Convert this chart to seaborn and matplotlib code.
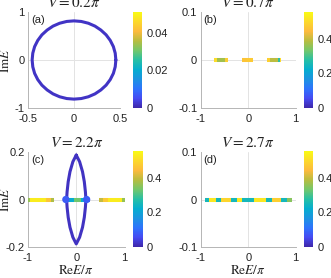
import numpy as np
import pandas as pd
import matplotlib
matplotlib.use("Agg")
import matplotlib.pyplot as plt
from matplotlib.colors import LinearSegmentedColormap, Normalize
from matplotlib.cm import ScalarMappable
import seaborn as sns

sns.set_style("white")
plt.rcParams['font.family'] = ['Liberation Sans', 'DejaVu Sans']
plt.rcParams['mathtext.fontset'] = 'stix'

# parula-like colormap
parula = LinearSegmentedColormap.from_list("parula", [
    (0.00, (0.242, 0.150, 0.660)),
    (0.10, (0.275, 0.290, 0.950)),
    (0.20, (0.180, 0.450, 0.990)),
    (0.30, (0.110, 0.580, 0.880)),
    (0.40, (0.020, 0.680, 0.810)),
    (0.50, (0.150, 0.750, 0.650)),
    (0.60, (0.450, 0.780, 0.420)),
    (0.70, (0.720, 0.740, 0.250)),
    (0.80, (0.990, 0.730, 0.240)),
    (0.90, (0.990, 0.850, 0.170)),
    (1.00, (0.976, 0.983, 0.080)),
])

loop_qx = [0.455, 0.448, 0.428, 0.394, 0.349, 0.292, 0.228, 0.156, 0.079, 0.0]
loop_qy = [0.0, 0.142, 0.279, 0.408, 0.524, 0.624, 0.706, 0.766, 0.803, 0.815]
loop_val = 0.002

# (b) V = 0.7pi : real segments [x0, x1, value]
b_x0 = [-0.72, -0.66, -0.48, -0.137, -0.02, 0.39, 0.45, 0.62, 0.66]
b_x1 = [-0.66, -0.48, -0.42, -0.02, 0.107, 0.45, 0.62, 0.66, 0.69]
b_v = [0.50, 0.37, 0.48, 0.46, 0.47, 0.48, 0.39, 0.28, 0.50]

# (c) V = 2.2pi : lens loop + real segments
lens_x = [0.0, 0.07, 0.13, 0.167, 0.19, 0.20, 0.19, 0.167, 0.13, 0.07, 0.0,
          -0.07, -0.13, -0.167, -0.19, -0.20, -0.19, -0.167, -0.13, -0.07, 0.0]
lens_y = [0.187, 0.159, 0.117, 0.075, 0.032, 0.0, -0.032, -0.075, -0.117, -0.159, -0.187,
          -0.159, -0.117, -0.075, -0.032, 0.0, 0.032, 0.075, 0.117, 0.159, 0.187]
lens_val = 0.02
blob_x = [-0.215, 0.215]
blob_v = [0.08, 0.08]
c_x0 = [-1.0, -0.95, -0.62, -0.52, -0.245, -0.15, -0.05, 0.10, 0.20, 0.47, 0.55, 0.65, 0.95]
c_x1 = [-0.95, -0.62, -0.52, -0.46, -0.15, -0.05, 0.10, 0.20, 0.28, 0.55, 0.65, 0.95, 1.0]
c_v = [0.36, 0.53, 0.46, 0.38, 0.13, 0.22, 0.33, 0.22, 0.13, 0.40, 0.47, 0.53, 0.36]

# (d) V = 2.7pi
d_x0 = [-0.909, -0.825, -0.684, -0.579, -0.368, -0.228, -0.123, 0.123, 0.368, 0.509, 0.684, 0.825]
d_x1 = [-0.825, -0.684, -0.579, -0.368, -0.228, -0.123, 0.123, 0.368, 0.509, 0.684, 0.825, 0.930]
d_v = [0.25, 0.52, 0.25, 0.49, 0.25, 0.52, 0.25, 0.52, 0.25, 0.48, 0.25, 0.35]

W, H = 331, 278
fig = plt.figure(figsize=(W / 100, H / 100), dpi=100)
TXT = '#222222'


def px_axes(x0, x1, y0, y1):
    return fig.add_axes([x0 / W, 1 - y1 / H, (x1 - x0) / W, (y1 - y0) / H])


def style(ax, xlim, ylim, xt, yt, xtl, ytl, label, title):
    ax.set_xlim(xlim)
    ax.set_ylim(ylim)
    ax.axhline(0, color='#e3e3e3', lw=0.7, zorder=0)
    ax.axvline(0, color='#e3e3e3', lw=0.7, zorder=0)
    ax.set_xticks(xt)
    ax.set_xticklabels(xtl)
    ax.set_yticks(yt)
    ax.set_yticklabels(ytl)
    for s in ['top', 'right']:
        ax.spines[s].set_visible(False)
    for s in ['left', 'bottom']:
        ax.spines[s].set_color('#b5b5b5')
        ax.spines[s].set_linewidth(0.7)
    ax.tick_params(direction='in', length=2, width=0.6, color='#b5b5b5',
                   labelsize=8, labelcolor=TXT)
    ax.tick_params(axis='x', pad=4)
    ax.tick_params(axis='y', pad=2.5)
    ax.text(0.03, 0.97, label, transform=ax.transAxes, ha='left', va='top', fontsize=8,
            color=TXT)
    ax.set_title(title, fontsize=11, pad=3.5, color=TXT)
    ax.set_xlabel('')
    ax.set_ylabel('')


def cbar(x0, x1, y0, y1, vmax, ticks, tl):
    cax = px_axes(x0, x1, y0, y1)
    sm = ScalarMappable(norm=Normalize(0, vmax), cmap=parula)
    cb = fig.colorbar(sm, cax=cax)
    cb.outline.set_visible(False)
    cb.set_ticks(ticks)
    cb.set_ticklabels(tl)
    cax.tick_params(length=0, labelsize=8, labelcolor=TXT, pad=3)
    return sm.norm


def segs(ax, x0, x1, v, norm):
    df = pd.DataFrame({'x0': x0, 'x1': x1, 'v': v})
    for _, r in df.iterrows():
        ax.hlines(0, r.x0, r.x1, colors=[parula(norm(r.v))], lw=2.9, zorder=3)


def ylab(ax, left_px, width_px):
    ax.set_ylabel(r'$\mathrm{Im}E$', fontsize=9.5, color=TXT)
    ax.yaxis.set_label_coords((12 - left_px) / width_px, 0.5)


# (a)
ax = px_axes(28, 120, 12, 108)
na = cbar(133, 142, 12, 108, 0.051, [0, 0.02, 0.04], ['0', '0.02', '0.04'])
qx = np.array(loop_qx)
qy = np.array(loop_qy)
lx = np.concatenate([qx, -qx[::-1], -qx, qx[::-1]])
ly = np.concatenate([qy, qy[::-1], -qy, -qy[::-1]])
sns.lineplot(x=lx, y=ly, sort=False, estimator=None, color=parula(na(loop_val)), lw=2.2, ax=ax)
style(ax, (-0.5, 0.5), (-1, 1), [-0.5, 0, 0.5], [-1, 0, 1], ['-0.5', '0', '0.5'],
      ['-1', '0', '1'], '(a)', r'$V=0.2\pi$')
ylab(ax, 28, 92)

# (b)
ax = px_axes(200.7, 295.7, 12, 108)
nb = cbar(304, 313, 12, 108, 0.554, [0, 0.2, 0.4], ['0', '0.2', '0.4'])
segs(ax, b_x0, b_x1, b_v, nb)
style(ax, (-1, 1), (-0.1, 0.1), [-1, 0, 1], [-0.1, 0, 0.1], ['-1', '0', '1'],
      ['-0.1', '0', '0.1'], '(b)', r'$V=0.7\pi$')

# (c)
ax = px_axes(28, 124.5, 152, 247)
nc = cbar(133, 142.5, 151, 247, 0.554, [0, 0.2, 0.4], ['0', '0.2', '0.4'])
segs(ax, c_x0, c_x1, c_v, nc)
sns.lineplot(x=lens_x, y=lens_y, sort=False, estimator=None, color=parula(nc(lens_val)),
             lw=2.2, ax=ax, zorder=2)
sns.scatterplot(x=blob_x, y=[0, 0], color=[parula(nc(v)) for v in blob_v], s=28,
                edgecolor='none', ax=ax, zorder=4)
style(ax, (-1, 1), (-0.2, 0.2), [-1, 0, 1], [-0.2, 0, 0.2], ['-1', '0', '1'],
      ['-0.2', '0', '0.2'], '(c)', r'$V=2.2\pi$')
ylab(ax, 28, 96.5)
ax.set_xlabel(r'$\mathrm{Re}E/\pi$', fontsize=9.5, color=TXT, labelpad=1)

# (d)
ax = px_axes(200.7, 295.7, 152, 247)
nd = cbar(304, 313, 151, 247, 0.554, [0, 0.2, 0.4], ['0', '0.2', '0.4'])
segs(ax, d_x0, d_x1, d_v, nd)
style(ax, (-1, 1), (-0.1, 0.1), [-1, 0, 1], [-0.1, 0, 0.1], ['-1', '0', '1'],
      ['-0.1', '0', '0.1'], '(d)', r'$V=2.7\pi$')
ax.set_xlabel(r'$\mathrm{Re}E/\pi$', fontsize=9.5, color=TXT, labelpad=1)

fig.savefig('out.png', dpi=100)
